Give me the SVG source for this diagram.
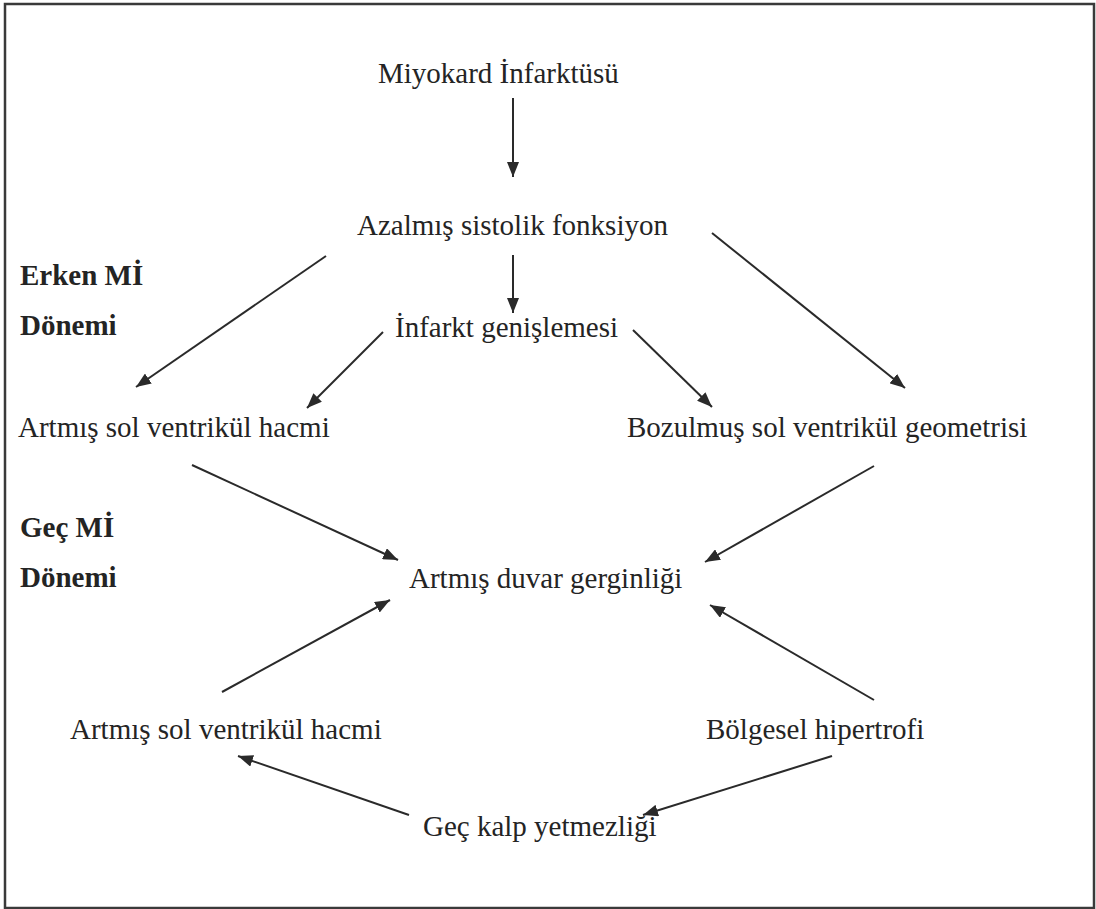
<svg xmlns="http://www.w3.org/2000/svg" width="1096" height="909" viewBox="0 0 1096 909">
<style>
.t{font-family:"Liberation Serif","Times New Roman",serif;font-size:29px;fill:#242424}
.b{font-family:"Liberation Serif","Times New Roman",serif;font-size:29px;font-weight:bold;fill:#242424}
.c line{stroke:#2a2a2a;stroke-width:2;marker-end:url(#ah)}
</style>
<defs>
<marker id="ah" markerUnits="userSpaceOnUse" markerWidth="16" markerHeight="12" refX="15" refY="6" orient="auto">
<path d="M0,0 L15,6 L0,12 Z" fill="#2a2a2a"/>
</marker>
</defs>
<rect x="0" y="0" width="1096" height="909" fill="#fff"/>
<rect x="5" y="4" width="1089" height="904" fill="none" stroke="#3a3a3a" stroke-width="2.5"/>
<g id="n1"><text class="t" x="378" y="83">Miyokard İnfarktüsü</text></g>
<g id="n2"><text class="t" x="357" y="235">Azalmış sistolik fonksiyon</text></g>
<g id="n3"><text class="t" x="395" y="337">İnfarkt genişlemesi</text></g>
<g id="lbl1"><text class="b" x="20" y="285">Erken Mİ</text><text class="b" x="20" y="335">Dönemi</text></g>
<g id="n4"><text class="t" x="18" y="437">Artmış sol ventrikül hacmi</text></g>
<g id="n5"><text class="t" x="627" y="437">Bozulmuş sol ventrikül geometrisi</text></g>
<g id="lbl2"><text class="b" x="20" y="537">Geç Mİ</text><text class="b" x="20" y="587">Dönemi</text></g>
<g id="n6"><text class="t" x="409" y="588">Artmış duvar gerginliği</text></g>
<g id="n7"><text class="t" x="70" y="739">Artmış sol ventrikül hacmi</text></g>
<g id="n8"><text class="t" x="706" y="739">Bölgesel hipertrofi</text></g>
<g id="n9"><text class="t" x="423" y="836">Geç kalp yetmezliği</text></g>
<g id="connectors" class="c">
<line x1="513" y1="98" x2="513" y2="177"/>
<line x1="513" y1="255" x2="513" y2="313"/>
<line x1="326" y1="256" x2="136" y2="387"/>
<line x1="383" y1="332" x2="307" y2="408"/>
<line x1="633" y1="330" x2="712" y2="407"/>
<line x1="712" y1="233" x2="905" y2="388"/>
<line x1="192" y1="465" x2="398" y2="560"/>
<line x1="874" y1="466" x2="705" y2="562"/>
<line x1="222" y1="692" x2="390" y2="600"/>
<line x1="874" y1="700" x2="710" y2="605"/>
<line x1="409" y1="815" x2="238" y2="756"/>
<line x1="832" y1="756" x2="643" y2="815"/>
</g>
</svg>
